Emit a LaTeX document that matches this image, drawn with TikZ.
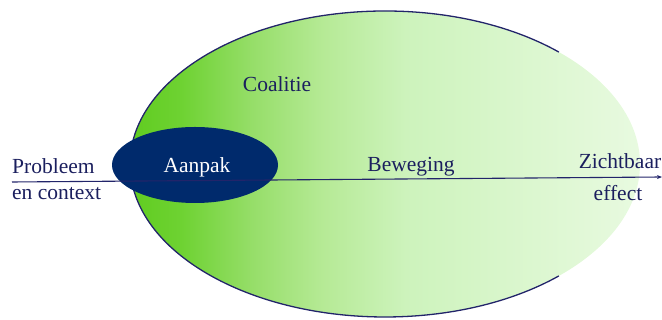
\documentclass[tikz,border=0pt]{standalone}
\usepackage{fontspec}
\setmainfont{Liberation Serif}
\usetikzlibrary{arrows.meta}
\definecolor{navy}{HTML}{002A6C}
\definecolor{txt}{HTML}{1B1F5E}
\definecolor{edge}{HTML}{22246A}
\pgfdeclarehorizontalshading{greenfade}{100bp}{
  color(0bp)=(rgb,255:red,96;green,204;blue,32);
  color(25bp)=(rgb,255:red,96;green,204;blue,32);
  color(30bp)=(rgb,255:red,110;green,210;blue,50);
  color(37bp)=(rgb,255:red,150;green,222;blue,105);
  color(44bp)=(rgb,255:red,182;green,234;blue,150);
  color(52bp)=(rgb,255:red,205;green,243;blue,188);
  color(75bp)=(rgb,255:red,232;green,250;blue,224);
  color(100bp)=(rgb,255:red,232;green,250;blue,224)}
\tikzset{
  lbl/.style={font=\fontsize{21.5}{23}\selectfont, text=txt, inner sep=0pt},
  rim/.style={draw=edge, line width=1.3pt},
  axisline/.style={draw=edge, line width=1.1pt, -{Stealth[length=5pt,width=4pt]}},
}
\begin{document}
\begin{tikzpicture}[x=1pt,y=1pt]
\useasboundingbox (0,0) rectangle (662,320);
% big ellipse with gradient
\coordinate (cc) at (385,156);
\shade[shading=greenfade]
  (cc) ellipse [x radius=255pt, y radius=153pt];
\draw[rim] (cc) ++(47:255pt and 153pt)
  arc [start angle=47, end angle=313, x radius=255pt, y radius=153pt];
% inner ellipse
\fill[navy] (195,155) ellipse [x radius=83pt, y radius=38pt];
\node[lbl, text=white] (aanpak) at (197,153) {Aanpak};
% axis line
\coordinate (start) at (12,138);
\coordinate (finish) at (662,143);
\draw[axisline] (start) -- (finish);
% labels
\node[lbl, anchor=west] (prob) at (12,154) {Probleem};
\node[lbl, anchor=west] (ctx) at (12,126) {en context};
\node[lbl] (coalitie) at (277,236) {Coalitie};
\node[lbl] (beweging) at (411,153) {Beweging};
\node[lbl] (zicht) at (620,159) {Zichtbaar};
\node[lbl] (effect) at (618,127) {effect};
\end{tikzpicture}
\end{document}
